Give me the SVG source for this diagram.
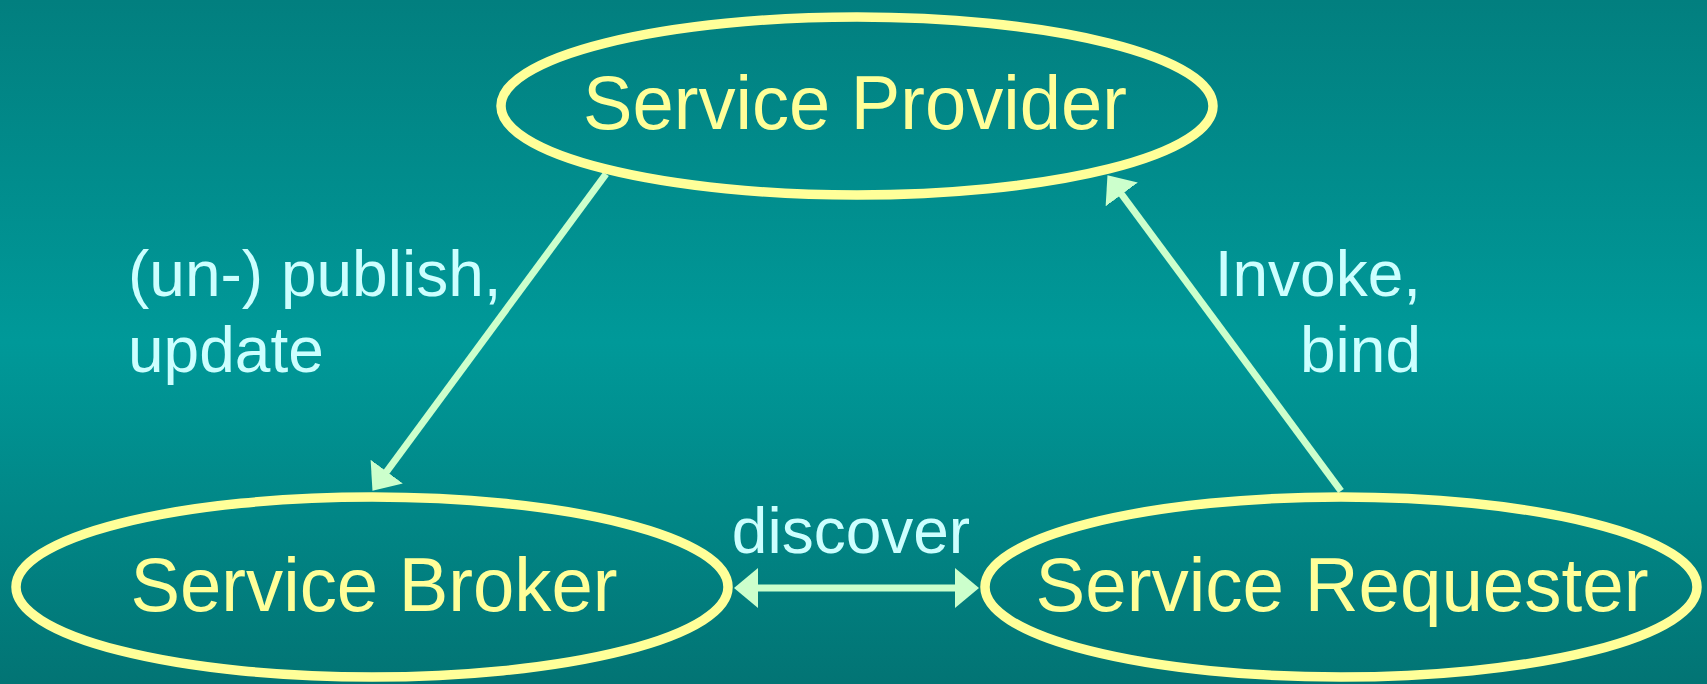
<svg xmlns="http://www.w3.org/2000/svg" width="1707" height="684" viewBox="0 0 1707 684">
<style>
.node ellipse{fill:none;stroke:#FFFF99;stroke-width:9.5}
.node text{font-family:"Liberation Sans",Arial,sans-serif;font-size:76px;fill:#FFFF99;text-anchor:middle}
.lbl{font-family:"Liberation Sans",Arial,sans-serif;font-size:64px;fill:#CCFFFF}
.conn{stroke:#CCFFCC;stroke-width:7;fill:none}
</style>
<defs>
<linearGradient id="bg" x1="0" y1="0" x2="0" y2="1">
<stop offset="0" stop-color="#027F7F"/>
<stop offset="0.5" stop-color="#009999"/>
<stop offset="1" stop-color="#027474"/>
</linearGradient>
<marker id="ah" markerUnits="userSpaceOnUse" markerWidth="25" markerHeight="41" refX="13" refY="20" orient="auto-start-reverse" viewBox="0 0 25 41">
<path d="M0,0 L24,20 L0,40 z" fill="#CCFFCC"/>
</marker>
</defs>
<rect x="0" y="0" width="1707" height="684" fill="url(#bg)"/>
<g id="connectors">
<line class="conn" x1="606" y1="174" x2="379" y2="482" marker-end="url(#ah)"/>
<line class="conn" x1="1341" y1="491" x2="1114" y2="184" marker-end="url(#ah)"/>
<line class="conn" x1="745" y1="588" x2="968" y2="588" marker-start="url(#ah)" marker-end="url(#ah)"/>
</g>
<g id="labels">
<text class="lbl" x="128" y="296">(un-) publish,</text>
<text class="lbl" x="128" y="372">update</text>
<text class="lbl" x="1421" y="296" text-anchor="end">Invoke,</text>
<text class="lbl" x="1421" y="372" text-anchor="end">bind</text>
<text class="lbl" x="851" y="553" text-anchor="middle">discover</text>
</g>
<g id="provider" class="node">
<ellipse cx="857" cy="106" rx="356" ry="89"/>
<text x="855" y="129" textLength="544" lengthAdjust="spacingAndGlyphs">Service Provider</text>
</g>
<g id="broker" class="node">
<ellipse cx="372" cy="587" rx="356" ry="90"/>
<text x="374" y="611" textLength="487" lengthAdjust="spacingAndGlyphs">Service Broker</text>
</g>
<g id="requester" class="node">
<ellipse cx="1341" cy="587" rx="356" ry="90"/>
<text x="1342" y="611" textLength="613" lengthAdjust="spacingAndGlyphs">Service Requester</text>
</g>
</svg>
